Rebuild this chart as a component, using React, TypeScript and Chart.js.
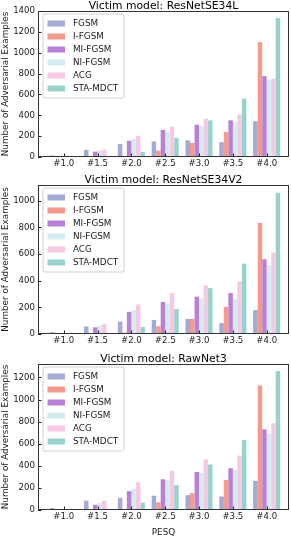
import React, { useEffect, useRef } from 'react';
import { Chart, registerables } from 'chart.js';
Chart.register(...registerables);

const categories = ['#1.0', '#1.5', '#2.0', '#2.5', '#3.0', '#3.5', '#4.0'];
const methods = ['FGSM', 'I-FGSM', 'MI-FGSM', 'NI-FGSM', 'ACG', 'STA-MDCT'];
const methodColors = ['#a4a9d5', '#f29a8b', '#b980d8', '#d2ecf2', '#f6c8e4', '#98d2cd'];

// Victim model: ResNetSE34L
const l_FGSM = [15, 68, 124, 150, 160, 142, 343];
const l_IFGSM = [0, 0, 10, 61, 135, 240, 1101];
const l_MIFGSM = [0, 51, 156, 260, 310, 352, 775];
const l_NIFGSM = [0, 64, 175, 241, 298, 332, 738];
const l_ACG = [0, 70, 204, 290, 367, 408, 750];
const l_STA = [0, 0, 48, 183, 351, 560, 1334];

// Victim model: ResNetSE34V2
const v2_FGSM = [13, 56, 93, 106, 113, 82, 180];
const v2_IFGSM = [0, 0, 10, 58, 114, 204, 834];
const v2_MIFGSM = [0, 50, 166, 241, 280, 308, 561];
const v2_NIFGSM = [0, 63, 181, 225, 266, 266, 517];
const v2_ACG = [0, 76, 222, 308, 364, 394, 611];
const v2_STA = [0, 0, 53, 188, 344, 528, 1060];

// Victim model: RawNet3
const r3_FGSM = [18, 84, 111, 129, 134, 122, 264];
const r3_IFGSM = [0, 0, 9, 69, 153, 272, 1128];
const r3_MIFGSM = [0, 48, 171, 278, 344, 379, 731];
const r3_NIFGSM = [0, 63, 192, 268, 335, 362, 692];
const r3_ACG = [0, 84, 253, 355, 457, 493, 786];
const r3_STA = [0, 0, 66, 225, 412, 633, 1258];

const ticksL = [0, 200, 400, 600, 800, 1000, 1200, 1400];
const ticksV2 = [0, 200, 400, 600, 800, 1000];
const ticksR3 = [0, 200, 400, 600, 800, 1000, 1200];

const FONT = 'DejaVu Sans';
const TEXT = '#1a1a1a';

type PanelProps = {
  title: string;
  series: number[][];
  yTicks: number[];
  yMax: number;
  top: number;
  height: number;
  plotTop: number;
  plotBottom: number;
  xTitle?: string;
};

const PLOT_LEFT = 38;
const PLOT_RIGHT = 289;

function makeFramePlugin(title: string) {
  return {
    id: 'frame',
    afterDatasetsDraw(chart: any) {
      const { ctx, chartArea } = chart;
      const { left, top, right, bottom } = chartArea;
      ctx.save();
      // legend box
      const bx = left + 4.5;
      const by = top + 2.5;
      const bw = 81;
      const bh = 84;
      ctx.beginPath();
      if ((ctx as any).roundRect) (ctx as any).roundRect(bx + 0.5, by + 0.5, bw, bh, 2);
      else ctx.rect(bx + 0.5, by + 0.5, bw, bh);
      ctx.fillStyle = 'rgba(255,255,255,0.85)';
      ctx.fill();
      ctx.strokeStyle = '#d0d0d0';
      ctx.lineWidth = 1;
      ctx.stroke();
      ctx.font = `8.8px "${FONT}"`;
      ctx.textBaseline = 'middle';
      ctx.textAlign = 'left';
      methods.forEach((m, i) => {
        const cy = by + 10 + i * 13;
        ctx.fillStyle = methodColors[i];
        ctx.fillRect(bx + 5, cy - 3, 17.5, 6);
        ctx.fillStyle = TEXT;
        ctx.fillText(m, bx + 30.5, cy + 0.5);
      });
      // inward ticks
      ctx.strokeStyle = '#222';
      ctx.lineWidth = 1;
      const ys = chart.scales.y;
      ys.ticks.forEach((t: any) => {
        const py = Math.round(ys.getPixelForValue(t.value)) + 0.5;
        ctx.beginPath();
        ctx.moveTo(left, py);
        ctx.lineTo(left + 3.5, py);
        ctx.stroke();
      });
      const xs = chart.scales.x;
      xs.ticks.forEach((t: any) => {
        const px = Math.round(xs.getPixelForValue(t.value)) + 0.5;
        ctx.beginPath();
        ctx.moveTo(px, bottom);
        ctx.lineTo(px, bottom - 3.5);
        ctx.stroke();
      });
      // frame
      ctx.strokeStyle = '#333';
      ctx.lineWidth = 1;
      ctx.strokeRect(left + 0.5, top + 0.5, right - left - 1, bottom - top - 1);
      // title
      ctx.fillStyle = '#000';
      ctx.font = `10.8px "${FONT}"`;
      ctx.textAlign = 'center';
      ctx.textBaseline = 'alphabetic';
      ctx.fillText(title, (left + right) / 2, top - 2);
      ctx.restore();
    },
  };
}

function Panel(p: PanelProps) {
  const ref = useRef<HTMLCanvasElement>(null);
  useEffect(() => {
    if (!ref.current) return;
    const chart = new Chart(ref.current, {
      type: 'bar',
      data: {
        datasets: methods.map((m, k) => ({
          label: m,
          data: categories.map((_, i) => ({ x: i, y: p.series[k][i] })),
          backgroundColor: methodColors[k],
          borderWidth: 0,
          categoryPercentage: 0.8,
          barPercentage: 1,
        })),
      },
      options: {
        responsive: false,
        animation: false,
        devicePixelRatio: 1,
        layout: { padding: { top: p.plotTop - p.top, left: 0, right: 291 - PLOT_RIGHT, bottom: 0 } },
        plugins: { legend: { display: false }, tooltip: { enabled: false }, title: { display: false } },
        scales: {
          x: {
            type: 'linear',
            offset: false,
            min: -0.76,
            max: 6.66,
            grid: { display: false, drawTicks: false, offset: false },
            border: { display: false },
            ticks: {
              callback: (v: any) => categories[v] ?? '',
              font: { family: FONT, size: 8.6 },
              color: TEXT,
              padding: 2,
              maxRotation: 0,
              autoSkip: false,
            },
            afterBuildTicks: (s: any) => {
              s.ticks = categories.map((_, i) => ({ value: i }));
            },
            afterFit: (s: any) => {
              s.height = p.top + p.height - p.plotBottom;
            },
            title: p.xTitle
              ? { display: true, text: p.xTitle, font: { family: FONT, size: 8.8 }, color: TEXT, padding: { top: 0, bottom: 1 } }
              : { display: false },
          },
          y: {
            min: 0,
            max: p.yMax,
            grid: { display: false, drawTicks: false },
            border: { display: false },
            ticks: {
              font: { family: FONT, size: 8.6 },
              color: TEXT,
              padding: 3,
              callback: (v: any) => String(v),
            },
            afterBuildTicks: (s: any) => {
              s.ticks = p.yTicks.map((v) => ({ value: v }));
            },
            afterFit: (s: any) => {
              s.width = PLOT_LEFT;
            },
            title: {
              display: true,
              text: 'Number of Adversarial Examples',
              font: { family: FONT, size: 8.8 },
              color: TEXT,
              padding: 0,
            },
          },
        },
      },
      plugins: [makeFramePlugin(p.title)],
    } as any);
    return () => chart.destroy();
  }, []);
  return (
    <canvas
      ref={ref}
      width={291}
      height={p.height}
      style={{ position: 'absolute', left: 0, top: p.top, width: 291, height: p.height }}
    />
  );
}

export default function App() {
  return (
    <div style={{ position: 'absolute', left: 0, top: 0, width: 291, height: 539, background: '#fff', overflow: 'hidden' }}>
      <Panel
        title="Victim model: ResNetSE34L"
        series={[l_FGSM, l_IFGSM, l_MIFGSM, l_NIFGSM, l_ACG, l_STA]}
        yTicks={ticksL}
        yMax={1400}
        top={0}
        height={176}
        plotTop={11}
        plotBottom={157}
      />
      <Panel
        title="Victim model: ResNetSE34V2"
        series={[v2_FGSM, v2_IFGSM, v2_MIFGSM, v2_NIFGSM, v2_ACG, v2_STA]}
        yTicks={ticksV2}
        yMax={1118}
        top={170}
        height={178}
        plotTop={185}
        plotBottom={334}
      />
      <Panel
        title="Victim model: RawNet3"
        series={[r3_FGSM, r3_IFGSM, r3_MIFGSM, r3_NIFGSM, r3_ACG, r3_STA]}
        yTicks={ticksR3}
        yMax={1322}
        top={348}
        height={191}
        plotTop={364}
        plotBottom={510}
        xTitle="PESQ"
      />
    </div>
  );
}
